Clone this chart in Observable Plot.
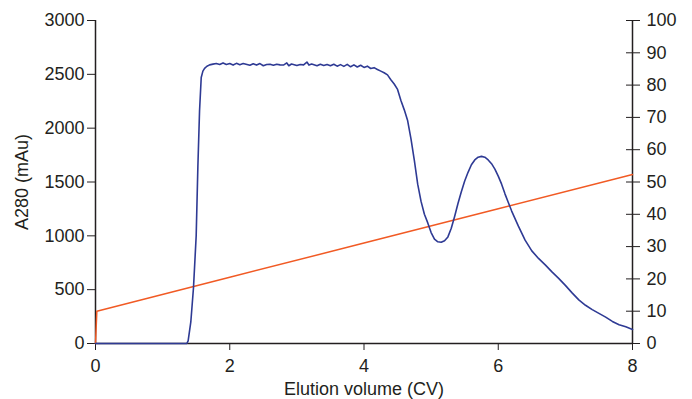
<!DOCTYPE html>
<html>
<head>
<meta charset="utf-8">
<script src="https://cdn.jsdelivr.net/npm/d3@7"></script>
<script src="https://cdn.jsdelivr.net/npm/@observablehq/plot@0.6"></script>
<style>
  html, body { margin: 0; padding: 0; background: #fff; }
  #chart svg text { font-size: 18px; font-family: 'Liberation Sans', Arial, sans-serif; }
</style>
</head>
<body>
<div id="chart"></div>
<script>
// Blue trace: A280 (mAu) vs elution volume (CV)
const a280X = [0, 1.36, 1.38, 1.42, 1.46, 1.5, 1.525, 1.55, 1.575, 1.6, 1.625, 1.66, 1.7, 1.75, 1.8, 1.85, 1.9, 1.95, 2.0, 2.05, 2.1, 2.15, 2.2, 2.3, 2.35, 2.4, 2.45, 2.5, 2.55, 2.6, 2.65, 2.7, 2.75, 2.8, 2.85, 2.88, 2.92, 3.0, 3.05, 3.1, 3.15, 3.18, 3.22, 3.3, 3.35, 3.4, 3.45, 3.5, 3.55, 3.6, 3.65, 3.7, 3.75, 3.8, 3.85, 3.9, 3.95, 4.0, 4.05, 4.1, 4.15, 4.2, 4.25, 4.3, 4.35, 4.4, 4.45, 4.5, 4.55, 4.6, 4.65, 4.7, 4.75, 4.8, 4.85, 4.9, 4.95, 5.0, 5.05, 5.1, 5.15, 5.2, 5.25, 5.3, 5.35, 5.4, 5.45, 5.5, 5.55, 5.6, 5.65, 5.7, 5.75, 5.8, 5.85, 5.9, 5.95, 6.0, 6.05, 6.1, 6.15, 6.2, 6.3, 6.4, 6.5, 6.6, 6.7, 6.8, 6.9, 7.0, 7.1, 7.2, 7.3, 7.4, 7.5, 7.6, 7.7, 7.8, 7.9, 8.0];
const a280Y = [0, 0, 25, 200, 520, 1000, 1640, 2160, 2470, 2530, 2555, 2575, 2588, 2595, 2600, 2592, 2606, 2592, 2600, 2586, 2602, 2590, 2600, 2584, 2598, 2586, 2600, 2580, 2592, 2594, 2584, 2594, 2588, 2586, 2606, 2580, 2596, 2582, 2592, 2588, 2614, 2586, 2596, 2580, 2594, 2582, 2592, 2580, 2594, 2576, 2590, 2574, 2592, 2570, 2588, 2568, 2584, 2564, 2576, 2554, 2562, 2545, 2530, 2515, 2495, 2450, 2410, 2360, 2257, 2170, 2071, 1900, 1700, 1480, 1320, 1200, 1120, 1030, 970, 945, 940, 955, 990, 1070, 1180, 1300, 1410, 1510, 1590, 1660, 1705, 1730, 1738, 1730, 1705, 1670, 1620, 1555, 1480, 1390, 1310, 1230, 1090, 960, 860, 790, 730, 665, 605, 540, 470, 405, 355, 315, 280, 245, 205, 175, 155, 130];

// Orange trace: gradient (%), right axis
const gradX = [0, 0.02, 2, 4, 6, 8];
const gradY = [0, 10, 20.5, 31.1, 41.7, 52.3];

const leftTicks = [0, 500, 1000, 1500, 2000, 2500, 3000];
const rightTicks = [0, 10, 20, 30, 40, 50, 60, 70, 80, 90, 100];
const xTicks = [0, 2, 4, 6, 8];
const leftMax = 3000, rightMax = 100;
const xMax = 8;
const ratio = leftMax / rightMax;

const a280 = a280X.map((x, i) => ({x, y: a280Y[i]}));
const grad = gradX.map((x, i) => ({x, y: gradY[i] * ratio}));
const rightScaled = rightTicks.map(v => v * ratio);

const ink = "#231f20";
const fs = 18;

const chart = Plot.plot({
  width: 692,
  height: 399,
  marginLeft: 95,
  marginRight: 60,
  marginTop: 20,
  marginBottom: 56,
  style: {fontFamily: "'Liberation Sans', Arial, sans-serif", fontSize: fs + "px", color: ink, background: "#fff"},
  x: {domain: [0, xMax]},
  y: {domain: [0, leftMax]},
  marks: [
    Plot.axisX({ticks: xTicks, tickSize: 7, tickPadding: 9, tickFormat: d3.format("d"), label: "Elution volume (CV)", labelAnchor: "center", labelArrow: "none", labelOffset: 51, fontSize: fs}),
    Plot.axisY({ticks: leftTicks, tickSize: 8, tickPadding: 3, tickFormat: d3.format("d"), label: "A280 (mAu)", labelAnchor: "center", labelArrow: "none", labelOffset: 80, fontSize: fs}),
    Plot.axisY({anchor: "right", ticks: rightScaled, tickSize: 7, tickPadding: 7, tickFormat: d => String(Math.round(d / ratio)), label: null, fontSize: fs}),
    Plot.ruleY(rightScaled, {y: d => d, x1: xMax, x2: xMax, insetLeft: -6, stroke: ink}),
    Plot.ruleX([0, xMax], {stroke: ink, strokeWidth: 1.5}),
    Plot.ruleY([0], {stroke: ink, strokeWidth: 1.5}),
    Plot.line(grad, {x: "x", y: "y", stroke: "#f15a24", strokeWidth: 1.5}),
    Plot.line(a280, {x: "x", y: "y", stroke: "#2e3a94", strokeWidth: 1.6})
  ]
});
document.getElementById("chart").appendChild(chart);
</script>
</body>
</html>
